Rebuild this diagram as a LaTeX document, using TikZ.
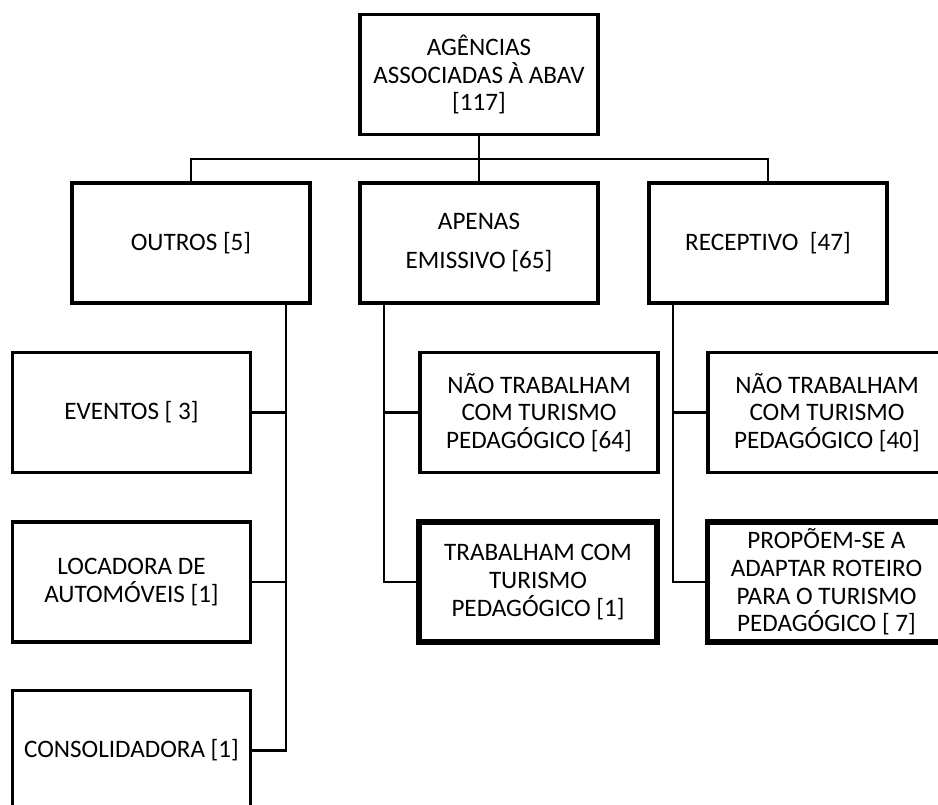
\documentclass[tikz,border=0pt]{standalone}
\usepackage{fontspec}
\setmainfont{Carlito}
\tikzset{
  caixa/.style={draw, line width=1.8pt, minimum width=4.76cm, minimum height=2.4cm,
    inner sep=0pt, align=center, font=\fontsize{14.3}{15.8}\selectfont},
  destaque/.style={caixa, line width=3pt},
  ligacao/.style={line width=1.5pt}
}
\begin{document}
\begin{tikzpicture}[x=0.02cm, y=-0.02cm]

\useasboundingbox (0,0) rectangle (938,805);
\clip (0,0) rectangle (938,805);

\node[caixa] (topo) at (479,74.5) {AGÊNCIAS\\ASSOCIADAS À ABAV\\{[117]}};

\node[caixa] (outros) at (191,243) {OUTROS [5]};
\node[caixa] (emissivo) at (479,243) {APENAS\\[6.4pt]EMISSIVO [65]};
\node[caixa] (receptivo) at (768,243) {RECEPTIVO~~[47]};

\node[caixa] (eventos) at (131.5,412.5) {EVENTOS [ 3]};
\node[caixa] (locadora) at (131.5,582) {LOCADORA DE\\AUTOMÓVEIS [1]};
\node[caixa] (consolidadora) at (131.5,750.5) {CONSOLIDADORA [1]};

\node[caixa] (naoemissivo) at (539,412.5) {NÃO TRABALHAM\\COM TURISMO\\PEDAGÓGICO [64]};
\node[destaque] (trabemissivo) at (538,582) {TRABALHAM COM\\TURISMO\\PEDAGÓGICO [1]};

\node[caixa] (naoreceptivo) at (827,412.5) {NÃO TRABALHAM\\COM TURISMO\\PEDAGÓGICO [40]};
\node[destaque] (propoem) at (826.5,582) {PROPÕEM-SE A\\ADAPTAR ROTEIRO\\PARA O TURISMO\\PEDAGÓGICO [ 7]};

\coordinate (barra) at (479,159);
\coordinate (troncooutros) at (286,303);
\coordinate (troncoemissivo) at (384,303);
\coordinate (troncoreceptivo) at (673,303);

\draw[ligacao] (topo.south) -- (emissivo.north);
\draw[ligacao] (outros.north) |- (barra) -| (receptivo.north);

\draw[ligacao] (troncooutros) |- (consolidadora.east);
\draw[ligacao] (eventos.east) -- (eventos.east -| troncooutros);
\draw[ligacao] (locadora.east) -- (locadora.east -| troncooutros);

\draw[ligacao] (troncoemissivo) |- (trabemissivo.west);
\draw[ligacao] (naoemissivo.west) -- (naoemissivo.west -| troncoemissivo);

\draw[ligacao] (troncoreceptivo) |- (propoem.west);
\draw[ligacao] (naoreceptivo.west) -- (naoreceptivo.west -| troncoreceptivo);

\end{tikzpicture}
\end{document}
